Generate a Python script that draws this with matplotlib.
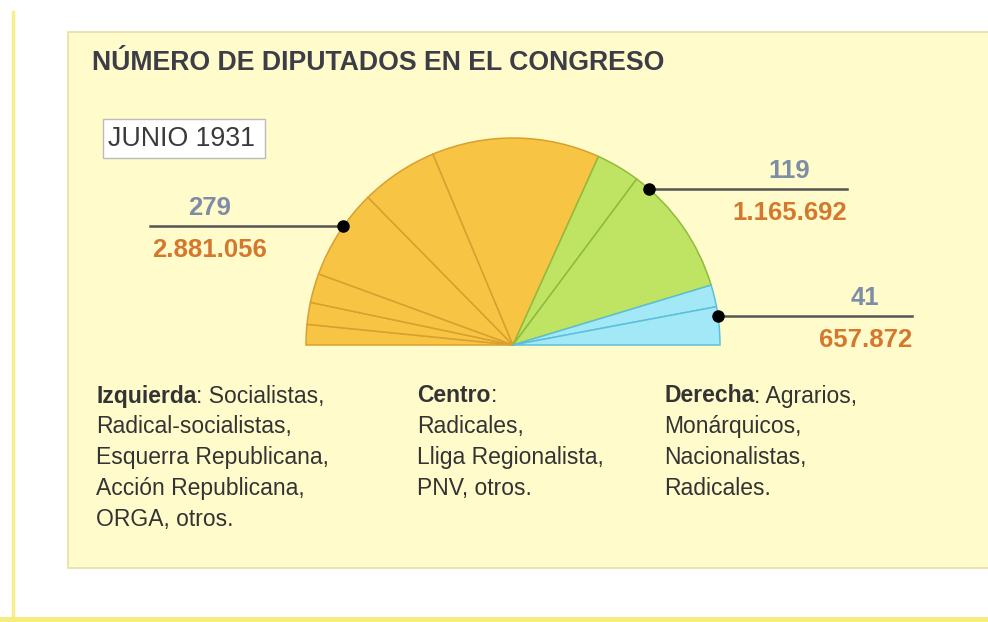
import matplotlib
matplotlib.use('Agg')
import numpy as np
import matplotlib.pyplot as plt
from matplotlib.patches import Rectangle

# datos (escaños por partido dentro de cada bloque, orden de izquierda a derecha)
izquierda_seats = [14, 15, 20, 62, 53, 115]
centro_seats = [30, 89]
derecha_seats = [15, 26]
group_seats = ['279', '119', '41']
group_votes = ['2.881.056', '1.165.692', '657.872']

title = 'NÚMERO DE DIPUTADOS EN EL CONGRESO'
fecha = 'JUNIO 1931'
legend_bold = ['Izquierda', 'Centro', 'Derecha']
legend_lines = [
    [': Socialistas,', 'Radical-socialistas,', 'Esquerra Republicana,', 'Acción Republicana,', 'ORGA, otros.'],
    [':', 'Radicales,', 'Lliga Regionalista,', 'PNV, otros.'],
    [': Agrarios,', 'Monárquicos,', 'Nacionalistas,', 'Radicales.'],
]

W, H = 988, 622
plt.rcParams['font.family'] = ['Liberation Sans', 'DejaVu Sans']

fig = plt.figure(figsize=(W / 100, H / 100), dpi=100)
ax = fig.add_axes([0, 0, 1, 1])
fig.patch.set_facecolor('white')

# fondo
ax.add_patch(Rectangle((68, H - 568), 940, 536, facecolor='#FFFBCB', edgecolor='#E6DFA6', lw=1.2, zorder=0))
ax.plot([13, 13], [0, H - 12], color='#F7EE8E', lw=2.5, zorder=0)
ax.add_patch(Rectangle((0, 0), W, 5, facecolor='#F6EC7E', edgecolor='none', zorder=0))

# hemiciclo
cx, cy, r = 513, H - 345, 207
vals = izquierda_seats + centro_seats + derecha_seats
total = sum(vals)
colors = (['#F7C444'] * len(izquierda_seats) + ['#BFE362'] * len(centro_seats)
          + ['#A3E8F6'] * len(derecha_seats) + ['none'])
edges = (['#D9A030'] * len(izquierda_seats) + ['#8FBC3C'] * len(centro_seats)
         + ['#5CC0DA'] * len(derecha_seats) + ['none'])
wedges, _ = ax.pie(vals + [total], colors=colors, startangle=180, counterclock=False,
                   center=(cx, cy), radius=r, wedgeprops=dict(linewidth=1.1))
for w, ec in zip(wedges, edges):
    w.set_edgecolor(ec)
wedges[-1].set_visible(False)

ax.set_xlim(0, W)
ax.set_ylim(0, H)
ax.set_aspect('equal')
ax.axis('off')

# etiquetas con línea
label_angles = [145, 49, 8]
line_ends = [150, 847, 912]
rend = fig.canvas.get_renderer()
inv = ax.transData.inverted()
for ang, xe, seats, votes in zip(label_angles, line_ends, group_seats, group_votes):
    a = np.radians(ang)
    dx, dy = cx + r * np.cos(a), cy + r * np.sin(a)
    ax.plot([dx, xe], [dy, dy], color='#555555', lw=1.8, zorder=3)
    ax.plot(dx, dy, 'o', color='black', ms=8, zorder=4)
    ha = 'left' if xe < dx else 'right'
    t = ax.text(xe + (2 if ha == 'left' else 0), dy - 12, votes, ha=ha, va='top',
                fontsize=18.5, fontweight='bold', color='#D4782E')
    bb = t.get_window_extent(rend)
    xc = inv.transform(((bb.x0 + bb.x1) / 2, 0))[0]
    ax.text(xc, dy + 6, seats, ha='center', va='bottom',
            fontsize=18.5, fontweight='bold', color='#7E8DA6')

# título y fecha
ax.text(92, H - 63, title, ha='left', va='center', fontsize=19.2, fontweight='bold', color='#3C3D46')
ax.add_patch(Rectangle((103, H - 158), 162, 39, facecolor='white', edgecolor='#BBBBBB', lw=1, zorder=3))
ax.text(108, H - 139, fecha, ha='left', va='center', fontsize=19.3, color='#3A3A3A', zorder=4)

# leyenda
col_x = [96, 417, 664]
y0, step = H - 396, 30.8
for x, bold, lines in zip(col_x, legend_bold, legend_lines):
    tb = ax.text(x, y0, bold, ha='left', va='center', fontsize=16.5, fontweight='bold', color='#333333')
    bw = tb.get_window_extent(rend).width
    ax.text(x + bw, y0, lines[0], ha='left', va='center', fontsize=16.5, color='#333333')
    for i, ln in enumerate(lines[1:], start=1):
        ax.text(x, y0 - i * step, ln, ha='left', va='center', fontsize=16.5, color='#333333')

fig.savefig('out.png', dpi=100, facecolor='white')
